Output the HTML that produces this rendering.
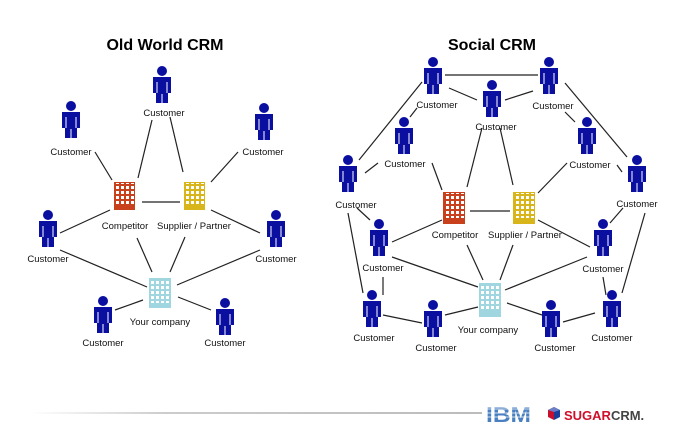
<!DOCTYPE html>
<html><head><meta charset="utf-8"><style>
html,body{margin:0;padding:0;background:#fff;}
svg{display:block;}
text{font-family:"Liberation Sans",Arial,sans-serif;}
.l{font-size:9.5px;fill:#111;text-anchor:middle;}
</style></head><body>
<svg width="689" height="441" viewBox="0 0 689 441" xmlns="http://www.w3.org/2000/svg">
<defs>
<g id="p">
<circle cx="0" cy="5" r="5" fill="#0b0fa0"/>
<rect x="-9" y="11" width="18" height="16" fill="#0b0fa0"/>
<rect x="-6" y="26" width="12" height="11" fill="#0b0fa0"/>
<line x1="-5" y1="16" x2="-5" y2="27" stroke="#fff" stroke-width="1"/>
<line x1="5" y1="16" x2="5" y2="27" stroke="#fff" stroke-width="1"/>
<line x1="0" y1="28" x2="0" y2="37" stroke="#fff" stroke-width="1"/>
</g>
<pattern id="gw" width="5" height="5" patternUnits="userSpaceOnUse"><rect width="5" height="5" fill="none"/><rect x="1" y="1" width="3" height="3" fill="#fff"/></pattern>
</defs>
<rect width="689" height="441" fill="#fff"/>
<text x="165" y="50" font-size="16" font-weight="bold" text-anchor="middle" fill="#000">Old World CRM</text>
<text x="492" y="50" font-size="16" font-weight="bold" text-anchor="middle" fill="#000">Social CRM</text>

<g stroke="#222" stroke-width="1.2">
<line x1="152" y1="120" x2="138" y2="178"/>
<line x1="170" y1="117" x2="183" y2="172"/>
<line x1="95" y1="152" x2="112" y2="180"/>
<line x1="238" y1="152" x2="211" y2="182"/>
<line x1="142" y1="202" x2="180" y2="202"/>
<line x1="60" y1="233" x2="110" y2="210"/>
<line x1="60" y1="250" x2="147" y2="287"/>
<line x1="211" y1="210" x2="260" y2="233"/>
<line x1="137" y1="238" x2="152" y2="272"/>
<line x1="185" y1="237" x2="170" y2="272"/>
<line x1="260" y1="250" x2="177" y2="285"/>
<line x1="143" y1="300" x2="115" y2="310"/>
<line x1="178" y1="297" x2="211" y2="310"/>

<line x1="445" y1="75" x2="538" y2="75"/>
<line x1="449" y1="88" x2="477" y2="100"/>
<line x1="505" y1="100" x2="533" y2="91"/>
<line x1="422" y1="82" x2="359" y2="160"/>
<line x1="417" y1="108" x2="410" y2="117"/>
<line x1="565" y1="112" x2="575" y2="122"/>
<line x1="565" y1="83" x2="627" y2="157"/>
<line x1="482" y1="128" x2="467" y2="187"/>
<line x1="500" y1="128" x2="513" y2="185"/>
<line x1="378" y1="163" x2="365" y2="173"/>
<line x1="432" y1="163" x2="442" y2="190"/>
<line x1="567" y1="163" x2="538" y2="193"/>
<line x1="617" y1="165" x2="622" y2="172"/>
<line x1="470" y1="211" x2="510" y2="211"/>
<line x1="357" y1="208" x2="370" y2="220"/>
<line x1="348" y1="213" x2="363" y2="293"/>
<line x1="392" y1="242" x2="442" y2="220"/>
<line x1="392" y1="257" x2="478" y2="287"/>
<line x1="383" y1="277" x2="383" y2="295"/>
<line x1="467" y1="245" x2="483" y2="280"/>
<line x1="513" y1="245" x2="500" y2="280"/>
<line x1="538" y1="220" x2="590" y2="247"/>
<line x1="587" y1="257" x2="505" y2="290"/>
<line x1="623" y1="208" x2="610" y2="223"/>
<line x1="645" y1="213" x2="622" y2="293"/>
<line x1="603" y1="277" x2="606" y2="295"/>
<line x1="383" y1="315" x2="422" y2="323"/>
<line x1="478" y1="307" x2="445" y2="315"/>
<line x1="507" y1="303" x2="542" y2="315"/>
<line x1="563" y1="322" x2="595" y2="313"/>
</g>

<g>
<rect x="114" y="182" width="21" height="28" fill="#c8401c"/><rect x="115" y="183" width="19" height="22" fill="url(#gw)"/>
<rect x="184" y="182" width="21" height="28" fill="#d8b51a"/><rect x="185" y="183" width="19" height="22" fill="url(#gw)"/>
<rect x="149" y="278" width="22" height="30" fill="#9fd6e0"/><rect x="150" y="279" width="20" height="24" fill="url(#gw)"/>
<rect x="443" y="192" width="22" height="32" fill="#c8401c"/><rect x="444" y="193" width="20" height="25" fill="url(#gw)"/>
<rect x="513" y="192" width="22" height="32" fill="#d8b51a"/><rect x="514" y="193" width="20" height="25" fill="url(#gw)"/>
<rect x="479" y="283" width="22" height="34" fill="#9fd6e0"/><rect x="480" y="284" width="20" height="27" fill="url(#gw)"/>
</g>

<use href="#p" x="162" y="66"/>
<use href="#p" x="71" y="101"/>
<use href="#p" x="264" y="103"/>
<use href="#p" x="48" y="210"/>
<use href="#p" x="276" y="210"/>
<use href="#p" x="103" y="296"/>
<use href="#p" x="225" y="298"/>
<use href="#p" x="433" y="57"/>
<use href="#p" x="549" y="57"/>
<use href="#p" x="492" y="80"/>
<use href="#p" x="404" y="117"/>
<use href="#p" x="587" y="117"/>
<use href="#p" x="348" y="155"/>
<use href="#p" x="637" y="155"/>
<use href="#p" x="379" y="219"/>
<use href="#p" x="603" y="219"/>
<use href="#p" x="372" y="290"/>
<use href="#p" x="433" y="300"/>
<use href="#p" x="551" y="300"/>
<use href="#p" x="612" y="290"/>

<g class="l">
<text x="164" y="116" class="l">Customer</text>
<text x="71" y="155" class="l">Customer</text>
<text x="263" y="155" class="l">Customer</text>
<text x="48" y="262" class="l">Customer</text>
<text x="276" y="262" class="l">Customer</text>
<text x="103" y="346" class="l">Customer</text>
<text x="225" y="346" class="l">Customer</text>
<text x="125" y="229" class="l">Competitor</text>
<text x="194" y="229" class="l">Supplier / Partner</text>
<text x="160" y="325" class="l">Your company</text>

<text x="437" y="108" class="l">Customer</text>
<text x="553" y="109" class="l">Customer</text>
<text x="496" y="130" class="l">Customer</text>
<text x="405" y="167" class="l">Customer</text>
<text x="590" y="168" class="l">Customer</text>
<text x="356" y="208" class="l">Customer</text>
<text x="637" y="207" class="l">Customer</text>
<text x="383" y="271" class="l">Customer</text>
<text x="603" y="272" class="l">Customer</text>
<text x="374" y="341" class="l">Customer</text>
<text x="436" y="351" class="l">Customer</text>
<text x="555" y="351" class="l">Customer</text>
<text x="612" y="341" class="l">Customer</text>
<text x="455" y="238" class="l">Competitor</text>
<text x="525" y="238" class="l">Supplier / Partner</text>
<text x="488" y="333" class="l">Your company</text>
</g>

<defs><linearGradient id="fl" x1="0" x2="1"><stop offset="0" stop-color="#fff"/><stop offset="0.3" stop-color="#ccc"/><stop offset="1" stop-color="#bbb"/></linearGradient></defs>
<rect x="30" y="412" width="452" height="2" fill="url(#fl)"/>
<text x="486" y="422" font-family="Liberation Serif,serif" font-size="21" font-weight="bold" fill="#4a7fc0" textLength="45" lengthAdjust="spacingAndGlyphs">IBM</text>
<g stroke="#fff" stroke-width="0.7"><line x1="484" y1="409" x2="533" y2="409"/><line x1="484" y1="413" x2="533" y2="413"/><line x1="484" y1="417" x2="533" y2="417"/></g>
<polygon points="548,410 554,407 554,420 548,417" fill="#c8102e"/>
<polygon points="554,407 560,410 560,417 554,420" fill="#1a3f9a"/>
<polygon points="548,410 554,407 560,410 554,412" fill="#6a7fc8"/>
<text x="564" y="420" font-size="13" font-weight="bold" fill="#d0102a">SUGAR<tspan fill="#444">CRM.</tspan></text>
</svg>
</body></html>
